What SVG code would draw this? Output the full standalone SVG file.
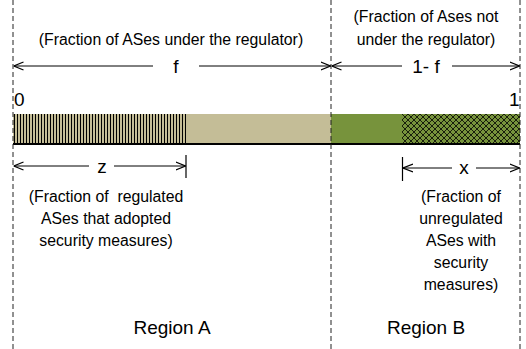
<svg xmlns="http://www.w3.org/2000/svg" width="526" height="349" viewBox="0 0 526 349">
<style>
text{font-family:"Liberation Sans",Arial,sans-serif;fill:#000;font-size:15.8px}
.c{text-anchor:middle}
.dash{stroke:#222;stroke-width:1;stroke-dasharray:5,3;fill:none}
.ar{stroke:#000;stroke-width:1;fill:none}
.big{font-size:19px}
</style>
<defs>
<marker id="ah" viewBox="0 0 10 10" refX="10" refY="5" markerWidth="10" markerHeight="10" markerUnits="userSpaceOnUse" orient="auto-start-reverse">
<path d="M0,1 L10,5 L0,9" fill="none" stroke="#000" stroke-width="1.2"/>
</marker>
<pattern id="vh" width="3" height="30" patternUnits="userSpaceOnUse" x="13">
<rect width="3" height="30" fill="#C4BD97"/>
<rect x="1" width="1" height="30" fill="#000"/>
</pattern>
<pattern id="xh" width="6" height="6" patternUnits="userSpaceOnUse" x="402" y="114">
<rect width="6" height="6" fill="#77933C"/>
<path d="M0,0 L6,6 M6,0 L0,6" stroke="#000" stroke-width="0.8"/>
</pattern>
</defs>
<g id="bar">
<rect x="13" y="114" width="318" height="30" fill="#C4BD97"/>
<rect x="13" y="114" width="173" height="30" fill="url(#vh)"/>
<rect x="331" y="114" width="189" height="30" fill="#77933C"/>
<rect x="402" y="114" width="118" height="30" fill="url(#xh)"/>
<line x1="13" y1="144" x2="520" y2="144" stroke="#000" stroke-width="2"/>
</g>
<g id="dividers">
<line class="dash" x1="13" y1="0" x2="13" y2="349"/>
<line class="dash" x1="331" y1="0" x2="331" y2="349"/>
<line class="dash" x1="520" y1="0" x2="520" y2="349"/>
</g>
<g id="connectors">
<line class="ar" x1="153" y1="66" x2="13.5" y2="66" marker-end="url(#ah)"/>
<line class="ar" x1="199" y1="66" x2="330.5" y2="66" marker-end="url(#ah)"/>
<line class="ar" x1="402" y1="66" x2="331.5" y2="66" marker-end="url(#ah)"/>
<line class="ar" x1="452" y1="66" x2="519.5" y2="66" marker-end="url(#ah)"/>
<line class="ar" x1="89" y1="166" x2="13.5" y2="166" marker-end="url(#ah)"/>
<line class="ar" x1="114" y1="166" x2="185.5" y2="166" marker-end="url(#ah)"/>
<line x1="186" y1="155" x2="186" y2="178" stroke="#000" stroke-width="1.2"/>
<line class="ar" x1="452" y1="168" x2="403" y2="168" marker-end="url(#ah)"/>
<line class="ar" x1="476" y1="168" x2="519.5" y2="168" marker-end="url(#ah)"/>
<line x1="402.5" y1="157" x2="402.5" y2="181" stroke="#000" stroke-width="1.2"/>
</g>
<g id="labels">
<text class="c" x="171" y="45">(Fraction of ASes under the regulator)</text>
<text class="c" x="426" y="22">(Fraction of Ases not</text>
<text class="c" x="426" y="45">under the regulator)</text>
<text class="c big" x="176" y="73">f</text>
<text class="c big" x="426" y="73">1- f</text>
<text class="big" x="14" y="106">0</text>
<text class="big" x="509" y="106">1</text>
<text class="c big" x="102" y="173">z</text>
<text class="c big" x="464" y="174">x</text>
<text class="c" x="106" y="202" xml:space="preserve">(Fraction of  regulated</text>
<text class="c" x="106" y="224">ASes that adopted</text>
<text class="c" x="106" y="246">security measures)</text>
<text class="c" x="461" y="202">(Fraction of</text>
<text class="c" x="461" y="224">unregulated</text>
<text class="c" x="461" y="246">ASes with</text>
<text class="c" x="461" y="268">security</text>
<text class="c" x="461" y="290">measures)</text>
<text class="c big" x="172" y="334">Region A</text>
<text class="c big" x="426" y="334">Region B</text>
</g>
</svg>
